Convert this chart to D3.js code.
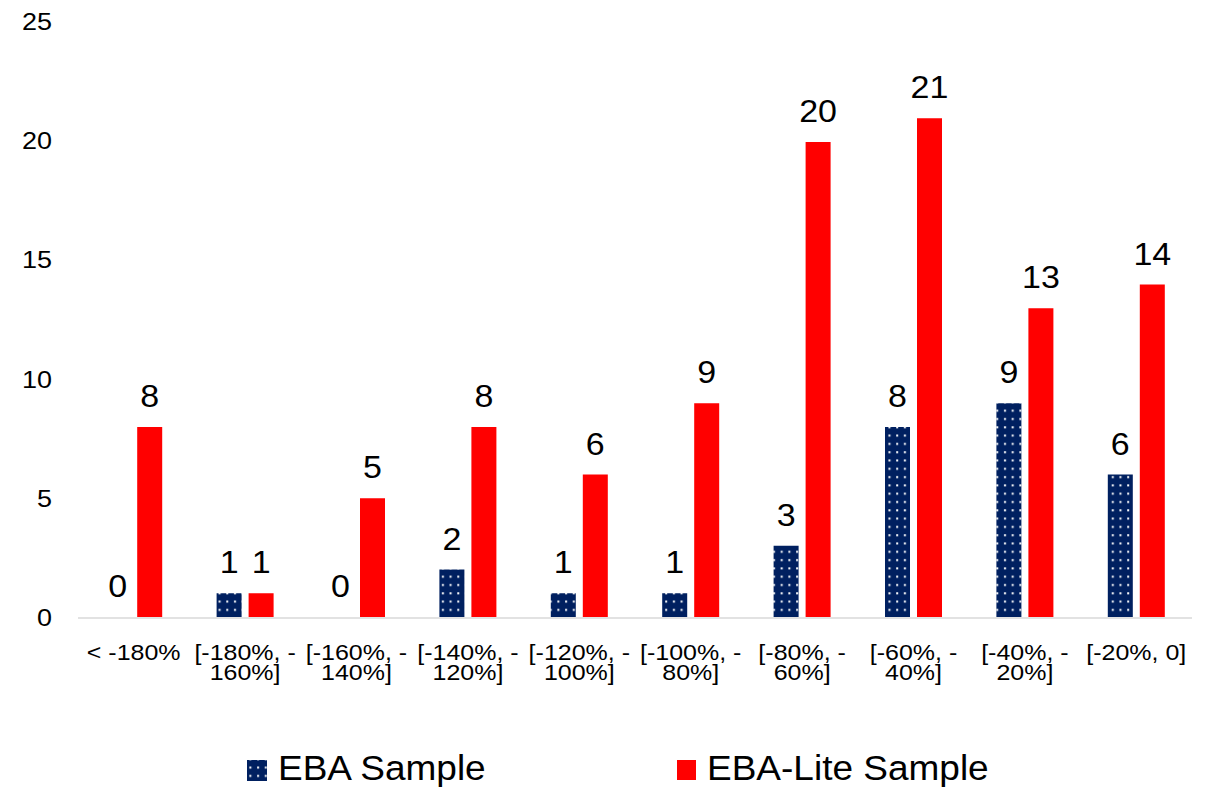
<!DOCTYPE html>
<html>
<head>
<meta charset="utf-8">
<script src="https://cdn.jsdelivr.net/npm/d3@7"></script>
<style>
  body { margin: 0; background: #fff; }
</style>
</head>
<body>
<div id="chart"></div>
<script>
// DATA
const categories = ["< -180%", "[-180%, -160%]", "[-160%, -140%]", "[-140%, -120%]", "[-120%, -100%]",
                    "[-100%, -80%]", "[-80%, -60%]", "[-60%, -40%]", "[-40%, -20%]", "[-20%, 0]"]
// wrapped tick labels, as they appear under the axis
const tickLines = [["< -180%"], ["[-180%, -", "160%]"], ["[-160%, -", "140%]"], ["[-140%, -", "120%]"],
                   ["[-120%, -", "100%]"], ["[-100%, -", "80%]"], ["[-80%, -", "60%]"], ["[-60%, -", "40%]"],
                   ["[-40%, -", "20%]"], ["[-20%, 0]"]]
const ebaSample = [0, 1, 0, 2, 1, 1, 3, 8, 9, 6]
const liteSample = [8, 1, 5, 8, 6, 9, 20, 21, 13, 14]
const yTicks = [0, 5, 10, 15, 20, 25]
const seriesNames = ["EBA Sample", "EBA-Lite Sample"]

// CONSTANTS
const width = 1212, height = 787
const navy = "#002060", red = "#ff0000"
const sy = 0.88   // text in the picture is a little squashed vertically

const svg = d3.select("#chart").append("svg")
    .attr("width", width)
    .attr("height", height)
    .attr("font-family", "'Liberation Sans', Arial, Helvetica, sans-serif")

// dotted fill for the EBA bars
const defs = svg.append("defs")
const pat = defs.append("pattern")
    .attr("id", "dots")
    .attr("patternUnits", "userSpaceOnUse")
    .attr("width", 7.7).attr("height", 8.3)
pat.append("rect").attr("width", 7.7).attr("height", 8.3).attr("fill", navy)
pat.append("rect").attr("x", 3).attr("y", 3).attr("width", 2).attr("height", 2).attr("fill", "#fff")

// SCALES
const xScale = d3.scaleBand()
    .domain(categories)
    .range([78, 1192])

const yScale = d3.scaleLinear()
    .domain([0, 25])
    .range([617, 23.25])

const barW = 25, gap = 7

function txt(x, y, s, size, anchor, sc) {
  return svg.append("text")
    .attr("transform", `translate(${x},${y}) scale(1,${sc || sy})`)
    .attr("font-size", size)
    .attr("font-family", "'Liberation Sans', Arial, sans-serif")
    .attr("fill", "#000")
    .attr("text-anchor", anchor)
    .text(s)
}

// Y TICK LABELS (no axis line, no gridlines)
yTicks.forEach(t => txt(52, yScale(t) + 8 + t * -0.1 + 1, t, 27, "end"))

// X AXIS LINE
svg.append("line")
    .attr("x1", xScale.range()[0]).attr("x2", xScale.range()[1])
    .attr("y1", 618).attr("y2", 618)
    .attr("stroke", "#d9d9d9")
    .attr("stroke-width", 1.6)

// BARS
const mid = d => xScale(d) + xScale.bandwidth() / 2

svg.selectAll("rect.eba")
    .data(categories)
    .join("rect")
    .attr("class", "eba")
    .attr("x", d => mid(d) - gap / 2 - barW)
    .attr("y", (d, i) => yScale(ebaSample[i]))
    .attr("width", barW)
    .attr("height", (d, i) => yScale(0) - yScale(ebaSample[i]))
    .attr("fill", "url(#dots)")

svg.selectAll("rect.lite")
    .data(categories)
    .join("rect")
    .attr("class", "lite")
    .attr("x", d => mid(d) + gap / 2)
    .attr("y", (d, i) => yScale(liteSample[i]))
    .attr("width", barW)
    .attr("height", (d, i) => yScale(0) - yScale(liteSample[i]))
    .attr("fill", red)

// DATA LABELS
categories.forEach((c, i) => {
  txt(mid(c) - gap / 2 - barW / 2, yScale(ebaSample[i]) - 20, ebaSample[i], 34, "middle", 0.94)
  txt(mid(c) + gap / 2 + barW / 2, yScale(liteSample[i]) - 20, liteSample[i], 34, "middle", 0.94)
})

// CATEGORY LABELS
categories.forEach((c, i) => {
  tickLines[i].forEach((line, j) => txt(mid(c), 659.5 + j * 20.5, line, 25, "middle"))
})

// LEGEND
svg.append("rect").attr("x", 247).attr("y", 760).attr("width", 20).attr("height", 21).attr("fill", "url(#dots)")
txt(278, 780, seriesNames[0], 37, "start", 0.95)
svg.append("rect").attr("x", 677).attr("y", 760).attr("width", 19).attr("height", 20).attr("fill", red)
txt(707, 780, seriesNames[1], 37, "start", 0.95)
</script>
</body>
</html>
